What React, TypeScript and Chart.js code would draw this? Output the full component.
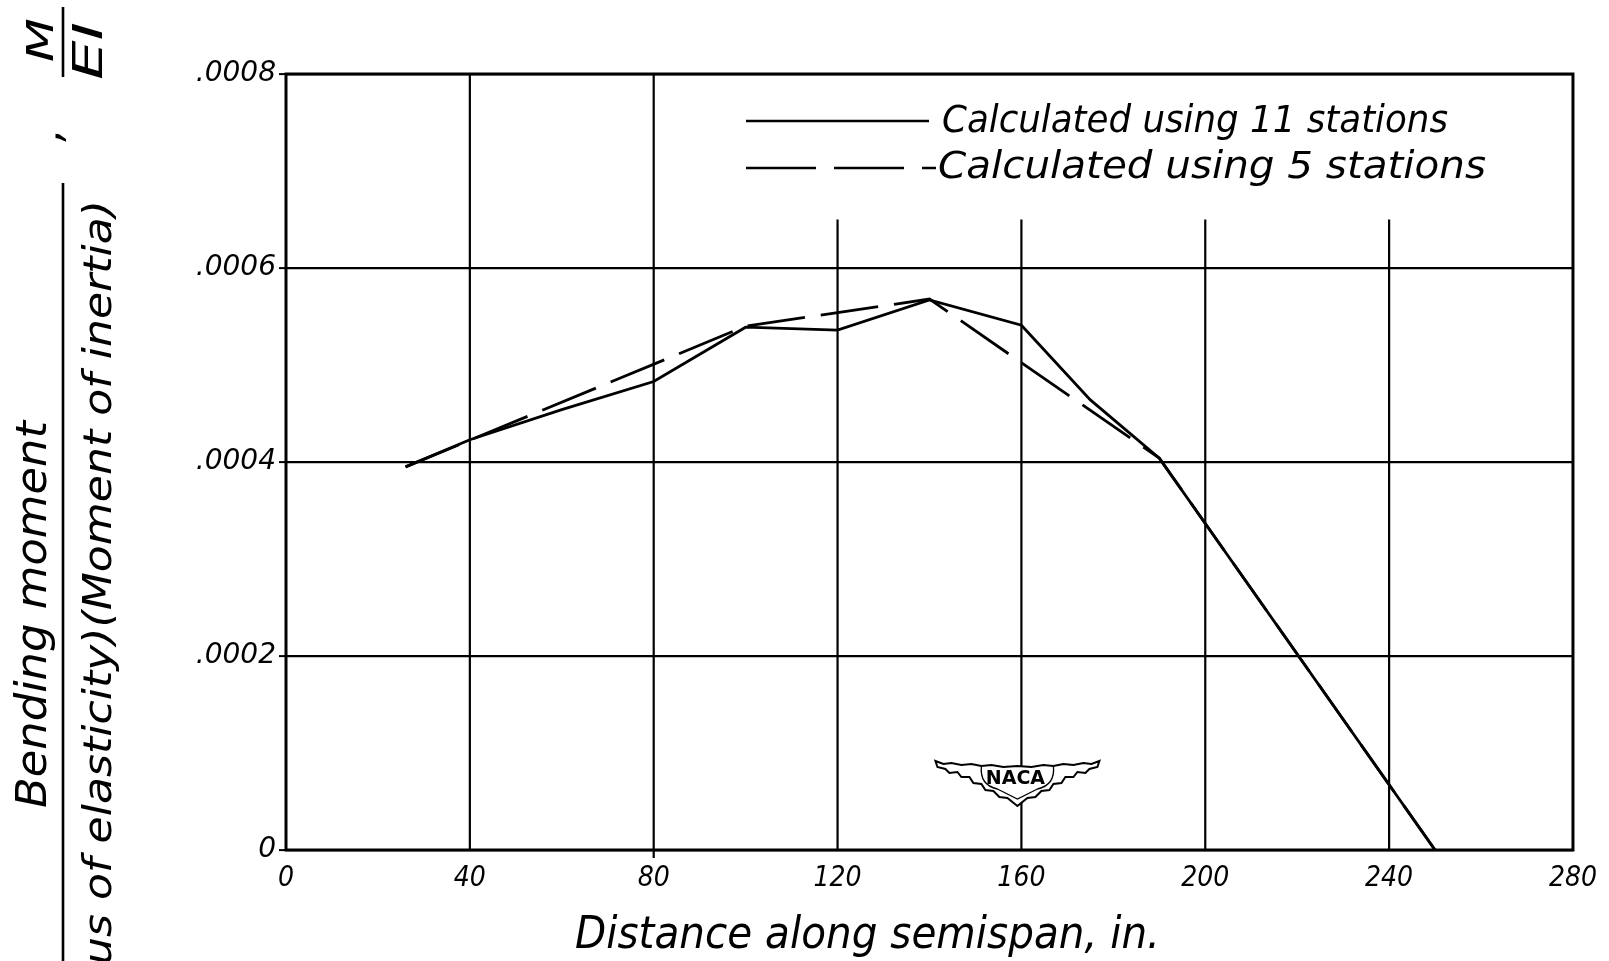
import React, { useEffect, useRef } from 'react';
import { Chart, registerables } from 'chart.js';

Chart.register(...registerables);

// ---- data ----
const stations11X = [26, 40, 60, 80, 100, 120, 140, 160, 175, 190, 250];
const stations11MEI = [0.000395, 0.000423, 0.000454, 0.000483, 0.000539, 0.000536, 0.000567, 0.000541, 0.000464, 0.000404, 0];
const stations5X = [26, 100, 140, 190, 250];
const stations5MEI = [0.000395, 0.00054, 0.000568, 0.000404, 0];

const xTickValues = [0, 40, 80, 120, 160, 200, 240, 280];
const yTickValues = [0, 0.0002, 0.0004, 0.0006, 0.0008];

const legendLabels = ['Calculated using 11 stations', 'Calculated using 5 stations'];
const xTitle = 'Distance along semispan, in.';
const yTitleNumerator = 'Bending moment';
const yTitleDenominator = '(Modulus of elasticity)(Moment of inertia)';
const yTitleVisiblePart = 'us of elasticity)(Moment of inertia)';
const symbolNum = 'M';
const symbolDen = 'EI';
const logoText = 'NACA';

const FONT = '"DejaVu Sans", "Liberation Sans", sans-serif';
const FONT_COND = '"DejaVu Sans Condensed", "DejaVu Sans", sans-serif';

function fitText(ctx: CanvasRenderingContext2D, text: string, width: number, font: string, align: CanvasTextAlign) {
  ctx.save();
  ctx.font = font;
  const w = ctx.measureText(text).width;
  ctx.scale(width / w, 1);
  ctx.textAlign = align;
  ctx.textBaseline = 'alphabetic';
  ctx.fillText(text, 0, 0);
  ctx.restore();
}

const decorPlugin = {
  id: 'decor',
  beforeDatasetsDraw(chart: any) {
    const { ctx, chartArea: a, scales } = chart;
    const xs = scales.x;
    const ys = scales.y;
    ctx.save();
    ctx.strokeStyle = '#000';
    ctx.lineWidth = 2.2;
    // vertical grid lines (the right-hand ones stop below the legend)
    xTickValues.forEach((v) => {
      if (v <= 0 || v >= 280) return;
      const x = xs.getPixelForValue(v);
      const yTop = v <= 80 ? a.top : ys.getPixelForValue(0.00065);
      ctx.beginPath();
      ctx.moveTo(x, yTop);
      ctx.lineTo(x, a.bottom + (v === 80 ? 8 : 0));
      ctx.stroke();
    });

    // NACA winged emblem
    const cx = xs.getPixelForValue(160) - 4;
    const cy = 779;
    const top: [number, number][] = [
      [-82, -18], [-74, -15], [-66, -16], [-56, -14], [-46, -15], [-36, -13], [-26, -14], [-14, -12], [0, -13],
      [14, -12], [26, -14], [36, -13], [46, -15], [56, -14], [66, -16], [74, -15], [82, -18],
    ];
    const underRight: [number, number][] = [
      [80, -12], [72, -10], [68, -6], [60, -7], [56, -2], [48, -2], [44, 4], [36, 5], [32, 11], [24, 12], [18, 18], [10, 19], [0, 27],
    ];
    ctx.beginPath();
    top.forEach(([dx, dy], i) => (i === 0 ? ctx.moveTo(cx + dx, cy + dy) : ctx.lineTo(cx + dx, cy + dy)));
    underRight.forEach(([dx, dy]) => ctx.lineTo(cx + dx, cy + dy));
    [...underRight].reverse().slice(1).forEach(([dx, dy]) => ctx.lineTo(cx - dx, cy + dy));
    ctx.lineTo(cx - 80, cy - 12);
    ctx.closePath();
    ctx.fillStyle = '#fff';
    ctx.fill();
    ctx.lineWidth = 2;
    ctx.stroke();
    // inner shield outline
    ctx.beginPath();
    ctx.moveTo(cx - 36, cy - 13);
    ctx.quadraticCurveTo(cx - 38, cy + 6, cx - 20, cy + 10);
    ctx.lineTo(cx, cy + 20);
    ctx.lineTo(cx + 20, cy + 10);
    ctx.quadraticCurveTo(cx + 38, cy + 6, cx + 36, cy - 13);
    ctx.lineWidth = 1.3;
    ctx.stroke();
    ctx.fillStyle = '#000';
    ctx.font = `bold 19px ${FONT}`;
    ctx.textAlign = 'center';
    ctx.textBaseline = 'middle';
    ctx.fillText(logoText, cx - 2, cy);
    ctx.restore();
  },
  afterDraw(chart: any) {
    const { ctx, chartArea: a } = chart;
    ctx.save();
    ctx.strokeStyle = '#000';
    ctx.fillStyle = '#000';

    // frame
    ctx.lineWidth = 3;
    ctx.strokeRect(a.left, a.top, a.right - a.left, a.bottom - a.top);

    // legend
    const lx0 = 746;
    ctx.lineWidth = 2.4;
    ctx.beginPath();
    ctx.moveTo(lx0, 121);
    ctx.lineTo(929, 121);
    ctx.stroke();
    ctx.setLineDash([70, 18]);
    ctx.beginPath();
    ctx.moveTo(lx0, 168);
    ctx.lineTo(936, 168);
    ctx.stroke();
    ctx.setLineDash([]);

    ctx.save();
    ctx.translate(942, 132);
    fitText(ctx, legendLabels[0], 506, `italic 37px ${FONT}`, 'left');
    ctx.restore();
    ctx.save();
    ctx.translate(938, 178);
    fitText(ctx, legendLabels[1], 548, `italic 37px ${FONT}`, 'left');
    ctx.restore();

    // x-axis title
    ctx.save();
    ctx.translate(575, 948);
    fitText(ctx, xTitle, 585, `italic 45px ${FONT}`, 'left');
    ctx.restore();

    // y-axis title: numerator
    ctx.save();
    ctx.translate(46, 808);
    ctx.rotate(-Math.PI / 2);
    fitText(ctx, yTitleNumerator, 387, `italic 43px ${FONT}`, 'left');
    ctx.restore();

    // fraction bar
    ctx.lineWidth = 2.6;
    ctx.beginPath();
    ctx.moveTo(63, 183);
    ctx.lineTo(63, 961);
    ctx.stroke();

    // denominator (runs off the bottom edge)
    ctx.save();
    ctx.translate(111, 200);
    ctx.rotate(-Math.PI / 2);
    const denFont = `italic 39px ${FONT}`;
    ctx.font = denFont;
    const sub = ctx.measureText(yTitleVisiblePart).width;
    const full = ctx.measureText(yTitleDenominator).width;
    fitText(ctx, yTitleDenominator, (765 / sub) * full, denFont, 'right');
    ctx.restore();

    // comma
    ctx.save();
    ctx.translate(61, 135);
    ctx.rotate(-Math.PI / 2);
    ctx.font = `italic 42px ${FONT}`;
    ctx.textAlign = 'center';
    ctx.fillText(',', 0, 0);
    ctx.restore();

    // M / EI
    ctx.save();
    ctx.translate(53, 62);
    ctx.rotate(-Math.PI / 2);
    fitText(ctx, symbolNum, 44, `italic 38px ${FONT}`, 'left');
    ctx.restore();
    ctx.lineWidth = 2.6;
    ctx.beginPath();
    ctx.moveTo(63, 7);
    ctx.lineTo(63, 77);
    ctx.stroke();
    ctx.save();
    ctx.translate(102, 80);
    ctx.rotate(-Math.PI / 2);
    fitText(ctx, symbolDen, 58, `italic 40px ${FONT}`, 'left');
    ctx.restore();

    ctx.restore();
  },
};

export default function App() {
  const canvasRef = useRef<HTMLCanvasElement | null>(null);

  useEffect(() => {
    document.body.style.margin = '0';
    document.body.style.overflow = 'hidden';
    const canvas = canvasRef.current;
    if (!canvas) return;

    const chart = new Chart(canvas, {
      type: 'line',
      data: {
        datasets: [
          {
            label: legendLabels[0],
            data: stations11X.map((x, i) => ({ x, y: stations11MEI[i] })),
            borderColor: '#000',
            borderWidth: 2.8,
            pointRadius: 0,
            tension: 0,
            fill: false,
          },
          {
            label: legendLabels[1],
            data: stations5X.map((x, i) => ({ x, y: stations5MEI[i] })),
            borderColor: '#000',
            borderWidth: 2.8,
            borderDash: [58, 16],
            pointRadius: 0,
            tension: 0,
            fill: false,
          },
        ],
      },
      options: {
        responsive: false,
        animation: false,
        events: [],
        layout: { padding: { top: 74, right: 34, left: 0, bottom: 0 } },
        plugins: { legend: { display: false }, tooltip: { enabled: false } },
        scales: {
          x: {
            type: 'linear',
            min: 0,
            max: 280,
            afterFit: (s: any) => {
              s.height = 111;
            },
            afterBuildTicks: (s: any) => {
              s.ticks = xTickValues.map((value) => ({ value }));
            },
            grid: { display: false, drawTicks: false },
            border: { display: false },
            ticks: {
              font: { family: FONT_COND, size: 28, style: 'italic' },
              color: '#000',
              padding: 12,
              maxRotation: 0,
              autoSkip: false,
              callback: (v: any) => String(v),
            },
          },
          y: {
            type: 'linear',
            min: 0,
            max: 0.0008,
            afterFit: (s: any) => {
              s.width = 286;
            },
            afterBuildTicks: (s: any) => {
              s.ticks = yTickValues.map((value) => ({ value }));
            },
            grid: { color: '#000', lineWidth: 2.2, drawTicks: true, tickLength: 7, tickColor: '#000', tickWidth: 2 },
            border: { display: false },
            ticks: {
              font: { family: FONT, size: 28, style: 'italic' },
              color: '#000',
              padding: 3,
              autoSkip: false,
              callback: (v: any) => (Number(v) === 0 ? '0' : Number(v).toFixed(4).replace(/^0/, '')),
            },
          },
        },
      },
      plugins: [decorPlugin],
    });

    return () => chart.destroy();
  }, []);

  return (
    <div style={{ position: 'absolute', left: 0, top: 0, width: 1609, height: 961, background: '#fff' }}>
      <canvas ref={canvasRef} width={1609} height={961} style={{ display: 'block', width: 1609, height: 961 }} />
    </div>
  );
}
